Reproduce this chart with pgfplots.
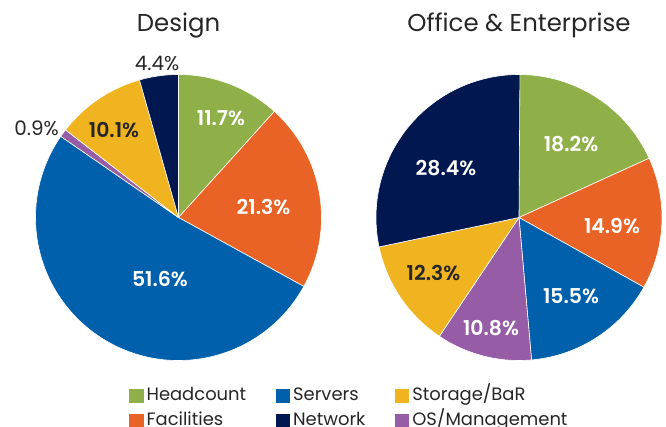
\documentclass[border=0pt]{standalone}
\usepackage{pgfplots}
\usepackage{pgfplotstable}
\pgfplotsset{compat=1.18}
\usepackage{fontspec}
\setmainfont{Poppins}[BoldFont={Poppins SemiBold}]

\definecolor{cHead}{HTML}{8FB048}
\definecolor{cFac}{HTML}{E96326}
\definecolor{cSrv}{HTML}{0060AB}
\definecolor{cOS}{HTML}{965CA5}
\definecolor{cSto}{HTML}{F0B421}
\definecolor{cNet}{HTML}{00174F}
\definecolor{cTxt}{HTML}{262626}

% share, colour, label style, label offset from centre (px, y up)
\pgfplotstableread{
share col sty dx dy
11.7 cHead lblw 42.5 99.5
21.3 cFac lblw 85 10
51.6 cSrv lblw -18.5 -62
0.9 cOS lblo -142 89
10.1 cSto lbld -64.5 87
4.4 cNet lblo -21.5 154.5
}\design

\pgfplotstableread{
share col sty dx dy
18.2 cHead lblw 52 73.5
14.9 cFac lblw 93 -8.5
15.5 cSrv lblw 52 -79
10.8 cOS lblw -28 -111
12.3 cSto lbld -85.5 -56
28.4 cNet lblw -73 49.5
}\office

\tikzset{
  lblw/.style={text=white, font=\bfseries\fontsize{20.5}{24}\selectfont},
  lbld/.style={text=cTxt, font=\bfseries\fontsize{20.5}{24}\selectfont},
  lblo/.style={text=cTxt, font=\fontsize{20}{24}\selectfont},
}

% #1 table, #2 #3 centre in axis units, radius 143
\newcommand\piechart[3]{%
  \def\angstart{90}%
  \pgfplotstablegetrowsof{#1}%
  \pgfmathtruncatemacro\lastrow{\pgfplotsretval-1}%
  \pgfplotsforeachungrouped \i in {0,...,\lastrow}{%
    \pgfplotstablegetelem{\i}{share}\of{#1}\let\share\pgfplotsretval
    \pgfplotstablegetelem{\i}{col}\of{#1}\let\col\pgfplotsretval
    \pgfmathsetmacro\angend{\angstart-3.6*\share}%
    \edef\temp{\noexpand\fill[\col,draw=white,line width=0.6bp,line join=round]
      (axis cs:#2,#3) -- ++(\angstart:143bp)
      arc[start angle=\angstart,end angle=\angend,radius=143bp] -- cycle;}%
    \temp
    \let\angstart\angend
  }%
  \pgfplotsforeachungrouped \i in {0,...,\lastrow}{%
    \pgfplotstablegetelem{\i}{share}\of{#1}\let\share\pgfplotsretval
    \pgfplotstablegetelem{\i}{sty}\of{#1}\let\sty\pgfplotsretval
    \pgfplotstablegetelem{\i}{dx}\of{#1}\let\dx\pgfplotsretval
    \pgfplotstablegetelem{\i}{dy}\of{#1}\let\dy\pgfplotsretval
    \pgfmathsetmacro\lx{#2+\dx}\pgfmathsetmacro\ly{#3+\dy}%
    \edef\temp{\noexpand\node[\sty] at (axis cs:\lx,\ly) {\share\noexpand\%};}%
    \temp
  }%
}

\begin{document}
\begin{tikzpicture}
\useasboundingbox (0,0) rectangle (666bp,427bp);
\begin{axis}[
  x=1bp, y=1bp,
  xmin=0, xmax=666, ymin=0, ymax=427,
  anchor=origin, at={(0,0)},
  hide axis, clip=false,
  legend columns=3,
  legend cell align=left,
  legend image code/.code={\fill[#1] (0bp,-6.8bp) rectangle (13.5bp,6.8bp);},
  legend style={at={(axis cs:129,43.5)}, anchor=north west, draw=none, fill=none,
    inner sep=0pt, text=cTxt, font=\fontsize{18}{22}\selectfont,
    nodes={inner sep=3.5bp, text height=13bp, text depth=4bp},
    row sep=1.5bp,
    /tikz/every even column/.append style={column sep=26bp}},
]
\addlegendimage{cHead}\addlegendentry{Headcount}
\addlegendimage{cSrv}\addlegendentry{Servers}
\addlegendimage{cSto}\addlegendentry{Storage/BaR}
\addlegendimage{cFac}\addlegendentry{Facilities}
\addlegendimage{cNet}\addlegendentry{Network}
\addlegendimage{cOS}\addlegendentry{OS/Management}

\piechart{\design}{178.5}{209.5}
\piechart{\office}{519}{209.5}

\node[anchor=base, text=cTxt, font=\fontsize{24.5}{28}\selectfont] at (axis cs:178.5,395) {Design};
\node[anchor=base, text=cTxt, font=\fontsize{24.5}{28}\selectfont] at (axis cs:519,395) {Office \& Enterprise};
\end{axis}
\end{tikzpicture}
\end{document}
